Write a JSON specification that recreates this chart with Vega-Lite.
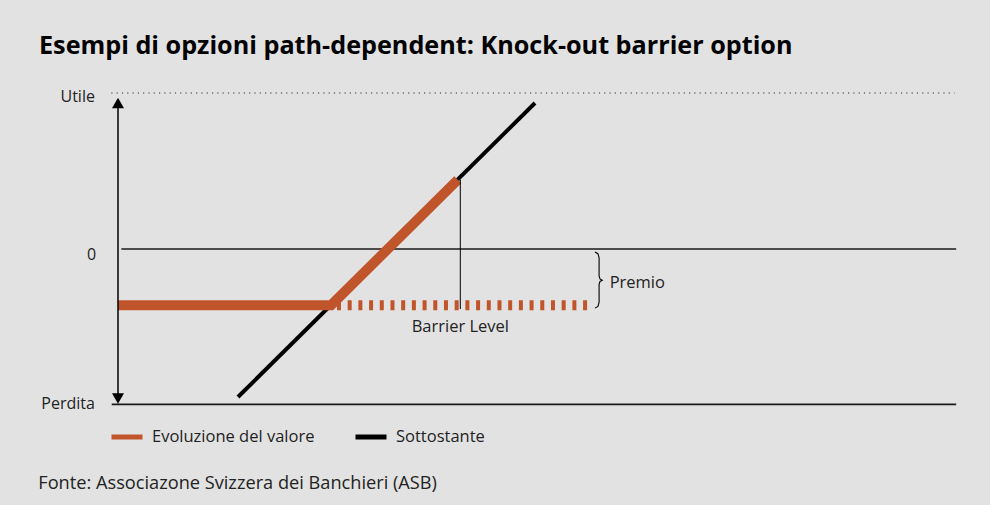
{
  "$schema": "https://vega.github.io/schema/vega-lite/v6.json",
  "autosize": "none",
  "width": 839,
  "height": 312,
  "padding": {"left": 118, "top": 93, "right": 33, "bottom": 100},
  "background": "#e2e2e2",
  "config": {"view": {"stroke": null}, "font": "Open Sans"},
  "title": {
    "text": "Esempi di opzioni path-dependent: Knock-out barrier option",
    "anchor": "start",
    "frame": "group",
    "dx": -79,
    "offset": 30,
    "font": "Open Sans",
    "fontSize": 25.2,
    "fontWeight": "bold",
    "color": "#000000"
  },
  "layer": [
    {
      "data": {"values": [{"x1": -0.8, "x2": 99.7, "y": 100}]},
      "mark": {"type": "rule", "color": "#333333", "strokeWidth": 1.2, "strokeDash": [1.2, 4.1]},
      "encoding": {
        "x": {"field": "x1", "type": "quantitative", "scale": {"domain": [0, 100], "nice": false, "zero": false}, "axis": null},
        "x2": {"field": "x2"},
        "y": {"field": "y", "type": "quantitative", "scale": {"domain": [-100, 100], "nice": false, "zero": false}, "axis": null}
      }
    },
    {
      "data": {"values": [{"x1": 0.4, "x2": 99.9, "y": 0}]},
      "mark": {"type": "rule", "color": "#1a1a1a", "strokeWidth": 1.3},
      "encoding": {
        "x": {"field": "x1", "type": "quantitative"},
        "x2": {"field": "x2"},
        "y": {"field": "y", "type": "quantitative"}
      }
    },
    {
      "data": {"values": [{"x1": -0.75, "x2": 99.9, "y": -99.6}]},
      "mark": {"type": "rule", "color": "#1a1a1a", "strokeWidth": 1.8},
      "encoding": {
        "x": {"field": "x1", "type": "quantitative"},
        "x2": {"field": "x2"},
        "y": {"field": "y", "type": "quantitative"}
      }
    },
    {
      "data": {"values": [
        {"series": "Sottostante", "x": 14.3, "y": -94.9},
        {"series": "Sottostante", "x": 49.7, "y": 93.6}
      ]},
      "mark": {"type": "line", "strokeWidth": 4, "strokeCap": "butt"},
      "encoding": {
        "x": {"field": "x", "type": "quantitative"},
        "y": {"field": "y", "type": "quantitative"},
        "color": {
          "field": "series", "type": "nominal",
          "scale": {"domain": ["Evoluzione del valore", "Sottostante"], "range": ["#c0552c", "#000000"]},
          "legend": {
            "title": null,
            "orient": "none",
            "direction": "horizontal",
            "legendX": -9,
            "legendY": 326,
            "symbolType": "stroke",
            "symbolSize": 961,
            "symbolStrokeWidth": 5,
            "labelFont": "Open Sans",
            "labelFontSize": 16.5,
            "labelColor": "#222222",
            "labelOffset": 7,
            "labelLimit": 400,
            "columnPadding": 30
          }
        }
      }
    },
    {
      "data": {"values": [
        {"series": "Evoluzione del valore", "x": 0, "y": -36},
        {"series": "Evoluzione del valore", "x": 25.4, "y": -36},
        {"series": "Evoluzione del valore", "x": 40.5, "y": 44.4}
      ]},
      "mark": {"type": "line", "strokeWidth": 10, "strokeCap": "butt", "strokeJoin": "miter"},
      "encoding": {
        "x": {"field": "x", "type": "quantitative"},
        "y": {"field": "y", "type": "quantitative"},
        "color": {"field": "series", "type": "nominal"}
      }
    },
    {
      "data": {"values": [
        {"x": 26.1, "y": -36},
        {"x": 56.1, "y": -36}
      ]},
      "mark": {"type": "line", "strokeWidth": 10, "strokeCap": "butt", "color": "#c0552c", "strokeDash": [4, 6.7]},
      "encoding": {
        "x": {"field": "x", "type": "quantitative"},
        "y": {"field": "y", "type": "quantitative"}
      }
    },
    {
      "data": {"values": [{"x": 40.8, "y1": 44.4, "y2": -38.5}]},
      "mark": {"type": "rule", "color": "#000000", "strokeWidth": 1},
      "encoding": {
        "x": {"field": "x", "type": "quantitative"},
        "y": {"field": "y1", "type": "quantitative"},
        "y2": {"field": "y2"}
      }
    },
    {
      "data": {"values": [{"x": 0, "y1": 95, "y2": -97}]},
      "mark": {"type": "rule", "color": "#000000", "strokeWidth": 1.5},
      "encoding": {
        "x": {"field": "x", "type": "quantitative"},
        "y": {"field": "y1", "type": "quantitative"},
        "y2": {"field": "y2"}
      }
    },
    {
      "data": {"values": [
        {"x": 0, "y": 93.6, "shape": "triangle-up"},
        {"x": 0, "y": -95.8, "shape": "triangle-down"}
      ]},
      "mark": {"type": "point", "filled": true, "size": 144, "color": "#000000", "opacity": 1},
      "encoding": {
        "x": {"field": "x", "type": "quantitative"},
        "y": {"field": "y", "type": "quantitative"},
        "shape": {"field": "shape", "type": "nominal", "scale": {"domain": ["triangle-up", "triangle-down"], "range": ["triangle-up", "triangle-down"]}, "legend": null}
      }
    },
    {
      "data": {"values": [
        {"o": 1, "x": 56.85, "y": -1.9},
        {"o": 2, "x": 57.2, "y": -3.0},
        {"o": 3, "x": 57.34, "y": -5.5},
        {"o": 4, "x": 57.34, "y": -17.3},
        {"o": 5, "x": 57.45, "y": -19.2},
        {"o": 6, "x": 57.72, "y": -20.0},
        {"o": 7, "x": 57.45, "y": -20.8},
        {"o": 8, "x": 57.34, "y": -22.7},
        {"o": 9, "x": 57.34, "y": -34.3},
        {"o": 10, "x": 57.2, "y": -36.8},
        {"o": 11, "x": 56.85, "y": -37.9}
      ]},
      "mark": {"type": "line", "color": "#000000", "strokeWidth": 1.1},
      "encoding": {
        "x": {"field": "x", "type": "quantitative"},
        "y": {"field": "y", "type": "quantitative"},
        "order": {"field": "o", "type": "quantitative"}
      }
    },
    {
      "data": {"values": [
        {"t": "Utile", "x": -2.75, "y": 97.3},
        {"t": "0", "x": -2.6, "y": -3.8},
        {"t": "Perdita", "x": -2.75, "y": -99.6}
      ]},
      "mark": {"type": "text", "align": "right", "baseline": "middle", "fontSize": 16, "color": "#222222", "font": "Open Sans"},
      "encoding": {
        "x": {"field": "x", "type": "quantitative"},
        "y": {"field": "y", "type": "quantitative"},
        "text": {"field": "t"}
      }
    },
    {
      "data": {"values": [
        {"t": "Barrier Level", "x": 40.8, "y": -50.2}
      ]},
      "mark": {"type": "text", "align": "center", "baseline": "middle", "fontSize": 16.5, "color": "#222222", "font": "Open Sans"},
      "encoding": {
        "x": {"field": "x", "type": "quantitative"},
        "y": {"field": "y", "type": "quantitative"},
        "text": {"field": "t"}
      }
    },
    {
      "data": {"values": [
        {"t": "Premio", "x": 58.6, "y": -21.9}
      ]},
      "mark": {"type": "text", "align": "left", "baseline": "middle", "fontSize": 16.5, "color": "#222222", "font": "Open Sans"},
      "encoding": {
        "x": {"field": "x", "type": "quantitative"},
        "y": {"field": "y", "type": "quantitative"},
        "text": {"field": "t"}
      }
    },
    {
      "data": {"values": [
        {"t": "Fonte: Associazone Svizzera dei Banchieri (ASB)", "x": -9.5, "y": -150.6}
      ]},
      "mark": {"type": "text", "align": "left", "baseline": "middle", "fontSize": 18.2, "color": "#222222", "font": "Open Sans"},
      "encoding": {
        "x": {"field": "x", "type": "quantitative"},
        "y": {"field": "y", "type": "quantitative"},
        "text": {"field": "t"}
      }
    }
  ]
}
